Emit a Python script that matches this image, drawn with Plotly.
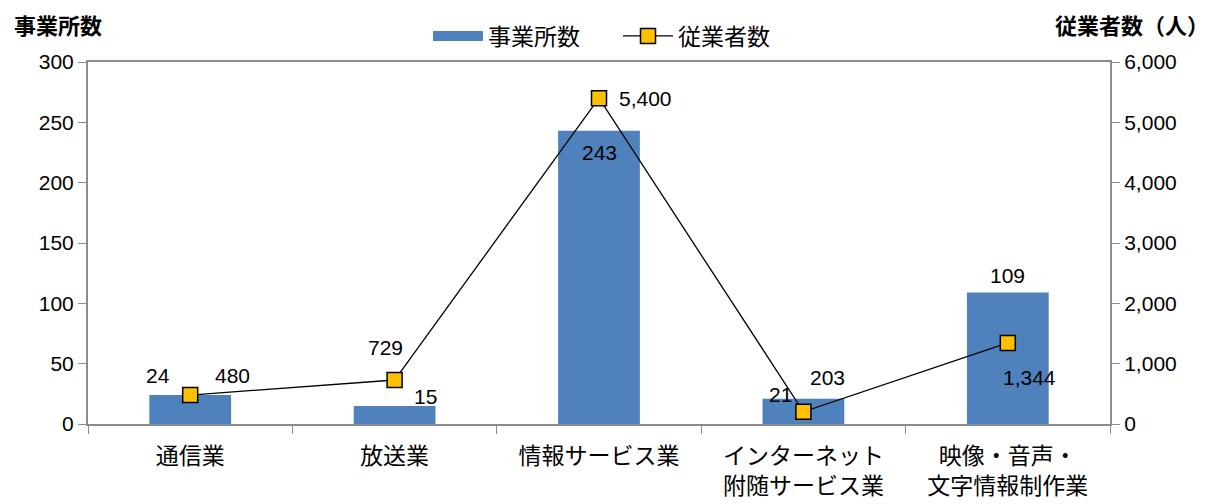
import plotly.graph_objects as go

categories = ["通信業", "放送業", "情報サービス業", "インターネット<br>附随サービス業", "映像・音声・<br>文字情報制作業"]
establishments = [24, 15, 243, 21, 109]
employees = [480, 729, 5400, 203, 1344]
left_ticks = [0, 50, 100, 150, 200, 250, 300]
right_ticks = [0, 1000, 2000, 3000, 4000, 5000, 6000]
right_tick_labels = ["0", "1,000", "2,000", "3,000", "4,000", "5,000", "6,000"]

FONT = "Liberation Sans, Noto Sans CJK JP"
JP = "Noto Sans CJK JP"
AX = "#8c8c8c"
BLUE = "#4F81BD"
OFF = 8  # page body margin offset
W, H = 1223 - OFF, 504 - OFF
L, T = 88 - OFF, 62 - OFF
PW, PH = 1022, 362
R, B = W - L - PW, H - T - PH
NUM = 21

fig = go.Figure()
fig.add_trace(go.Bar(
    x=categories, y=establishments, name="事業所数",
    marker=dict(color=BLUE, line=dict(width=0)),
    width=0.4, yaxis="y", showlegend=False,
))
# legend entry for the bars (wide swatch)
fig.add_trace(go.Scatter(
    x=[categories[0]], y=[None], name="事業所数", mode="lines",
    line=dict(color=BLUE, width=12), yaxis="y", hoverinfo="skip",
))
fig.add_trace(go.Scatter(
    x=categories, y=employees, name="従業者数", yaxis="y2",
    mode="lines+markers",
    line=dict(color="black", width=1.3),
    marker=dict(symbol="square", size=15, color="#FFC000", line=dict(color="black", width=1.5)),
))

bar_off = [(-32, 20), (31, 9), (0, -22), (-23, 4), (0, 17)]
for c, v, (dx, dy) in zip(categories, establishments, bar_off):
    fig.add_annotation(x=c, y=v, yref="y", text=f"{v:,}", showarrow=False,
                       xshift=dx, yshift=dy, font=dict(size=NUM, color="black", family=FONT))
line_off = [(42, 20), (-9, 33), (46, 0), (24, 34), (22, -35)]
for c, v, (dx, dy) in zip(categories, employees, line_off):
    fig.add_annotation(x=c, y=v, yref="y2", text=f"{v:,}", showarrow=False,
                       xshift=dx, yshift=dy, font=dict(size=NUM, color="black", family=FONT))

fig.add_annotation(x=(12 - 88) / PW, y=1 + (62 - 24) / PH, xref="paper", yref="paper",
                   xanchor="left", yanchor="middle", text="<b>事業所数</b>", showarrow=False,
                   font=dict(size=22, family=JP))
fig.add_annotation(x=1 + (1211 - 1110) / PW, y=1 + (62 - 24) / PH, xref="paper", yref="paper",
                   xanchor="right", yanchor="middle", text="<b>従業者数（人）</b>", showarrow=False,
                   font=dict(size=22, family=JP))

fig.update_layout(
    width=W, height=H,
    margin=dict(l=L, r=R, t=T, b=B, autoexpand=False),
    paper_bgcolor="white", plot_bgcolor="white",
    font=dict(family=FONT, size=NUM, color="black"),
    showlegend=True,
    legend=dict(orientation="h", x=(428 - 88) / PW, xanchor="left", y=1 + (62 - 36) / PH,
                yanchor="middle", font=dict(size=23, family=JP),
                entrywidth=125, itemwidth=50, bgcolor="rgba(0,0,0,0)"),
    xaxis=dict(showline=True, linecolor=AX, linewidth=2, mirror=True, ticks="outside",
               showgrid=False, tickfont=dict(size=23, family=JP),
               tickson="boundaries", ticklen=8, tickcolor=AX, automargin=False,
               ticklabelstandoff=10),
    yaxis=dict(range=[0, 300], tickvals=left_ticks, showline=True, linecolor=AX, linewidth=2,
               ticks="outside", ticklen=8, tickcolor=AX, showgrid=False, zeroline=False,
               tickfont=dict(size=NUM), automargin=False),
    yaxis2=dict(range=[0, 6000], tickvals=right_ticks, ticktext=right_tick_labels,
                overlaying="y", side="right", showline=True, linecolor=AX, linewidth=2,
                ticks="outside", ticklen=8, tickcolor=AX, showgrid=False, zeroline=False,
                tickfont=dict(size=NUM), automargin=False),
)
fig.write_html("out.html")
